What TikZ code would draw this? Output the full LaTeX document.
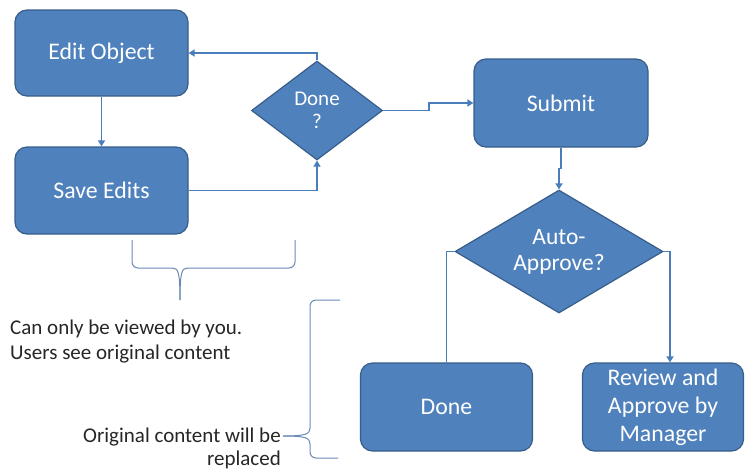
\documentclass[tikz,border=0pt]{standalone}
\usepackage{fontspec}
\setmainfont{Carlito}
\usetikzlibrary{shapes.geometric,arrows.meta}
\definecolor{boxfill}{HTML}{4F81BD}
\definecolor{boxline}{HTML}{385D8A}
\definecolor{conn}{HTML}{4A7EBB}
\definecolor{bracec}{HTML}{6A8AB5}
\tikzset{
  procbox/.style={draw=boxline, fill=boxfill, line width=1.2pt, rounded corners=12pt,
    text=white, font=\fontsize{23.8}{28}\selectfont, align=center, inner sep=0pt},
  decbox/.style={diamond, draw=boxline, fill=boxfill, line width=1.2pt,
    text=white, align=center, inner sep=0pt},
  flow/.style={draw=conn, line width=1.6pt, -{Triangle[length=6pt,width=7pt]}},
  flowplain/.style={draw=conn, line width=1.6pt},
  bracestyle/.style={draw=bracec, line width=1pt},
  note/.style={text=black!85, inner sep=0pt}
}
\begin{document}
\begin{tikzpicture}[x=1pt, y=-1pt]
\useasboundingbox (0,0) rectangle (745,472);
% boxes
\node[procbox, minimum width=173pt, minimum height=86pt] (edit) at (101.5,53) {Edit Object};
\node[procbox, minimum width=173pt, minimum height=87pt] (save) at (101.5,190.5) {Save Edits};
\node[procbox, minimum width=174pt, minimum height=88pt] (submit) at (561,103) {Submit};
\node[procbox, minimum width=172pt, minimum height=88pt] (donebox) at (446.5,407) {Done};
\node[procbox, minimum width=161pt, minimum height=88pt] (review) at (663,407) {Review and\\Approve by\\Manager};
% diamonds
\node[decbox, minimum width=131pt, minimum height=99pt, aspect=1.32,
  font=\fontsize{21}{23}\selectfont] (done) at (317,110.5) {Done\\?};
\node[decbox, minimum width=208pt, minimum height=123pt, aspect=1.69,
  font=\fontsize{23.5}{26}\selectfont] (auto) at (559,251.5) {Auto-\\Approve?};
% connectors
\draw[flow] (edit.south) -- (save.north);
\draw[flow] (done.north) |- (edit.east);
\draw[flow] (save.east) -| (done.south);
\draw[flow] (done.east) -- ++(46,0) |- (submit.west);
\draw[flow] (submit.south) -- ++(0,21) -| (auto.north);
\draw[flowplain] (auto.west) -| (donebox.north);
\draw[flow] (auto.east) -| ([xshift=7pt]review.north);
% braces
\coordinate (hb1) at (132,240);
\coordinate (hb2) at (295,240);
\coordinate (hbtip) at (180,300);
\draw[bracestyle, rounded corners=6pt] (hb1) -- (132,268) -- (172,268);
\draw[bracestyle] (172,268) .. controls (178,268) and (180,271) .. (hbtip);
\draw[bracestyle] (188,268) .. controls (182,268) and (180,271) .. (hbtip);
\draw[bracestyle, rounded corners=6pt] (188,268) -- (295,268) -- (hb2);
\coordinate (vb1) at (340,300);
\coordinate (vb2) at (338,458);
\coordinate (vbtip) at (283,436);
\draw[bracestyle, rounded corners=6pt] (vb1) -- (310,300) -- (310,428);
\draw[bracestyle] (310,428) .. controls (310,434) and (306,436) .. (vbtip);
\draw[bracestyle] (310,444) .. controls (310,438) and (306,436) .. (vbtip);
\draw[bracestyle, rounded corners=6pt] (310,444) -- (310,458) -- (vb2);
% notes
\node[note, anchor=west, align=left, font=\fontsize{21}{25}\selectfont] (n1) at (10,342) {Can only be viewed by you.\\Users see original content};
\node[note, anchor=east, align=right, font=\fontsize{21}{23}\selectfont] (n2) at (281,448) {Original content will be\\replaced};
\end{tikzpicture}
\end{document}
